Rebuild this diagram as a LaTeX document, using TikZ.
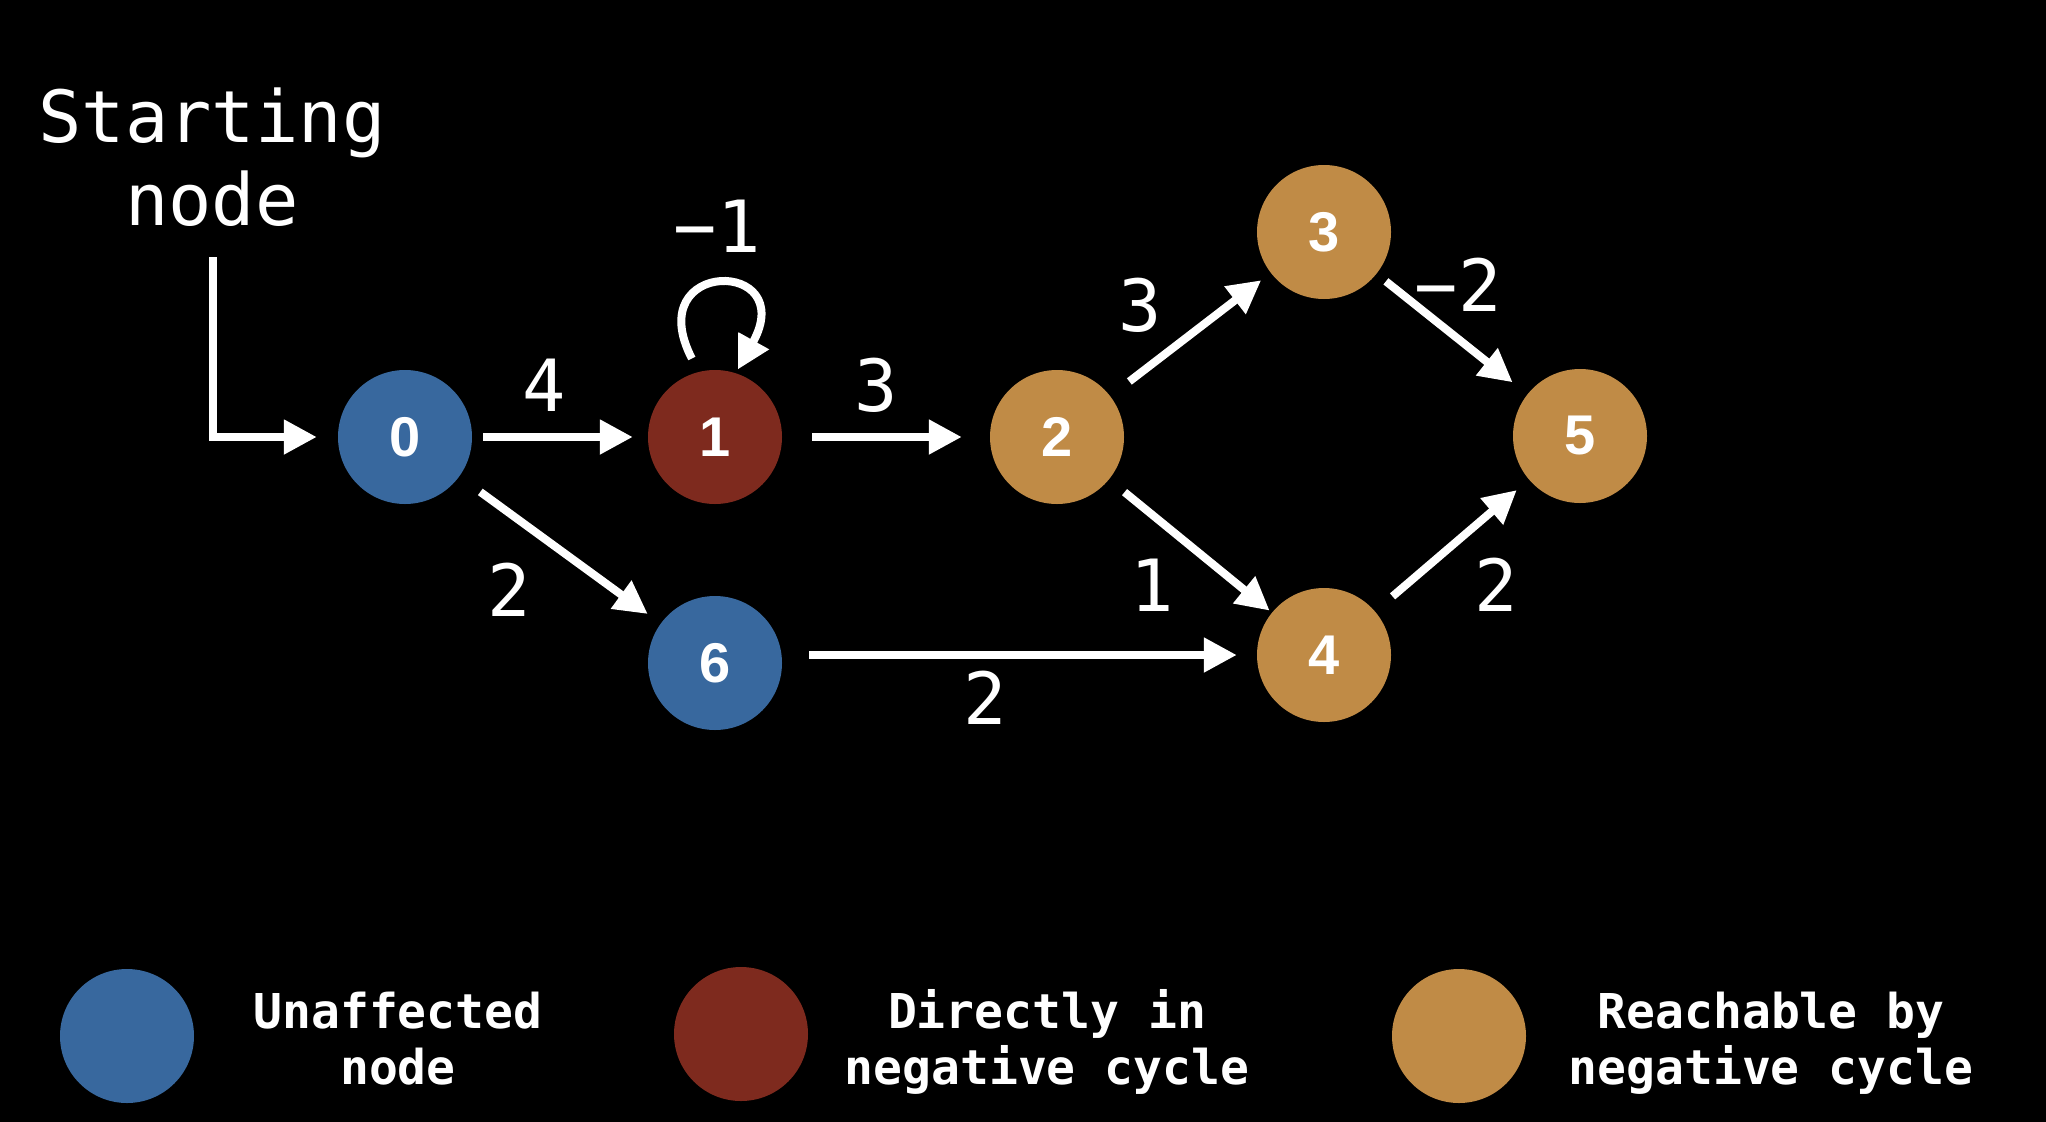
\documentclass[tikz,border=0pt]{standalone}
\usepackage{fontspec}
\usetikzlibrary{arrows.meta}
\newfontfamily\monof{DejaVu Sans Mono}
\newfontfamily\numf{Liberation Sans}
\definecolor{nblue}{RGB}{56,104,158}
\definecolor{nred}{RGB}{126,42,30}
\definecolor{ntan}{RGB}{192,139,70}
\begin{document}
\begin{tikzpicture}[x=1pt,y=-1pt,
  gnode/.style={circle,minimum size=134pt,inner sep=0pt,text=white,font=\numf\bfseries\fontsize{56}{56}\selectfont},
  edge/.style={draw=white,line width=8pt,-{Triangle[length=33pt,width=33pt]}},
  wlabel/.style={text=white,inner sep=0pt,font=\monof\fontsize{72}{83}\selectfont},
  legtext/.style={text=white,align=center,inner sep=0pt,anchor=base,font=\monof\bfseries\fontsize{48}{56}\selectfont}]
\fill[black] (0,0) rectangle (2046,1122);
\useasboundingbox (0,0) rectangle (2046,1122);

% nodes
\node[gnode,fill=nblue] (n0) at (405,437) {0};
\node[gnode,fill=nred]  (n1) at (715,437) {1};
\node[gnode,fill=ntan]  (n2) at (1057,437) {2};
\node[gnode,fill=ntan]  (n3) at (1324,232) {3};
\node[gnode,fill=ntan]  (n4) at (1324,655) {4};
\node[gnode,fill=ntan]  (n5) at (1580,436) {5};
\node[gnode,fill=nblue] (n6) at (715,663) {6};

% starting node
\node[wlabel,align=center,anchor=base] (start) at (212,225) {Starting\\node};
\coordinate (s) at (213,257);
\draw[edge,shorten >=21pt] (s) |- (n0);

% edges
\draw[edge,shorten <=11pt,shorten >=15pt] (n0) -- (n1);
\draw[edge,shorten <=30pt,shorten >=28pt] (n1) -- (n2);
\draw[edge,shorten <=26pt,shorten >=16pt] (n0) -- (n6);
\draw[edge,shorten <=27pt,shorten >=20pt] (n6.east |- n4.center) -- (n4);
\draw[edge,shorten <=24pt,shorten >=12pt] (n2) -- (n3);
\draw[edge,shorten <=20pt,shorten >=3pt] (n2) -- (n4);
\draw[edge,shorten <=12pt,shorten >=19pt] (n3) -- (n5);
\draw[edge,shorten <=23pt,shorten >=16pt] (n4) -- (n5);
\draw[edge,shorten <=15pt,shorten >=4pt] (n1.104) .. controls +(-59,-114) and +(64,-115) .. (n1.72);

% weights
\node[wlabel] (w01) at (544,385) {4};
\node[wlabel] (w12) at (876,385) {3};
\node[wlabel] (w06) at (509,590) {2};
\node[wlabel] (w64) at (985,698) {2};
\node[wlabel] (w23) at (1140,305) {3};
\node[wlabel] (w35) at (1458,285) {−2};
\node[wlabel] (w24) at (1152,585) {1};
\node[wlabel] (w45) at (1496,585) {2};
\node[wlabel] (w11) at (717,226) {−1};

% legend
\node[gnode,fill=nblue] (l0) at (127,1036) {};
\node[gnode,fill=nred]  (l1) at (741,1034) {};
\node[gnode,fill=ntan]  (l2) at (1459,1036) {};
\node[legtext] (t0) at (398,1084) {Unaffected\\node};
\node[legtext] (t1) at (1047,1084) {Directly in\\negative cycle};
\node[legtext] (t2) at (1771,1084) {Reachable by\\negative cycle};
\end{tikzpicture}
\end{document}
